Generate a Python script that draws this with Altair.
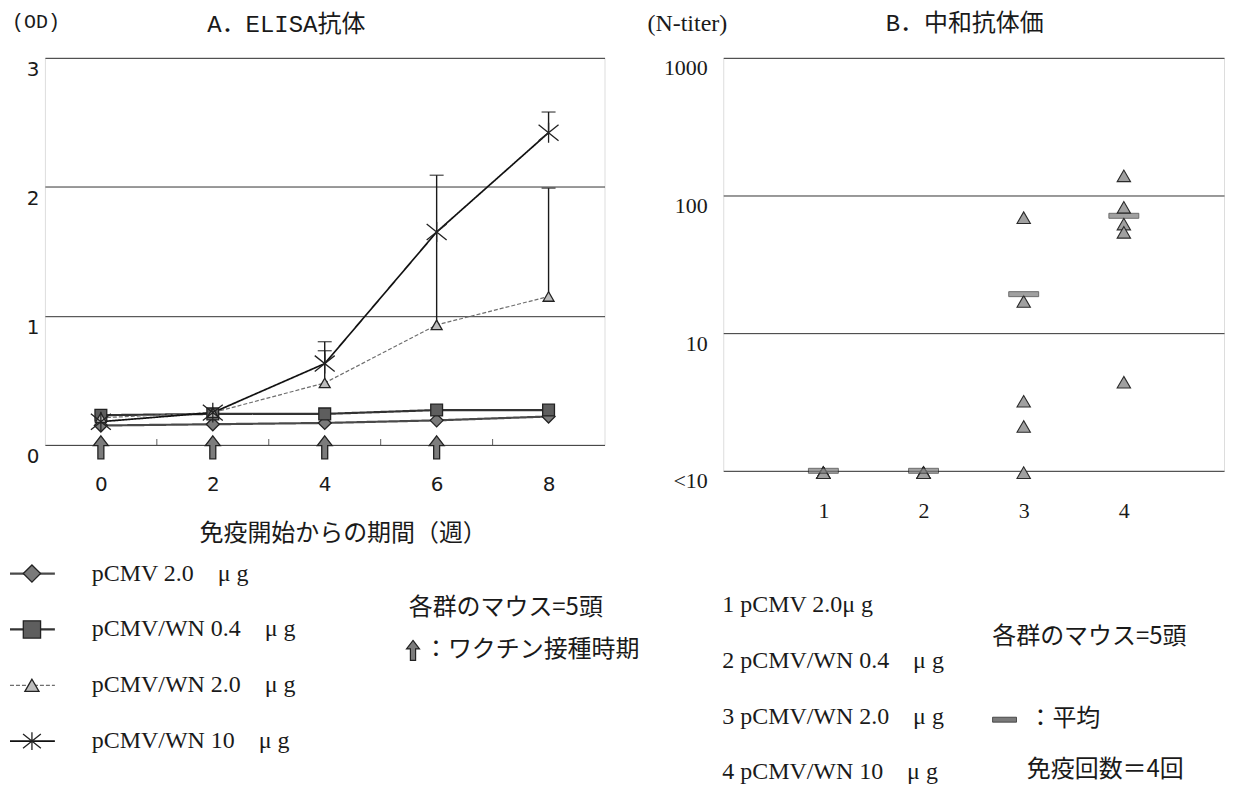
import altair as alt
import pandas as pd

# ---------------- Panel A : ELISA antibody (OD) ----------------
weeks = [0, 2, 4, 6, 8]
series = ["pCMV 2.0", "pCMV/WN 0.4", "pCMV/WN 2.0", "pCMV/WN 10"]
od_pcmv20 = [0.15, 0.16, 0.17, 0.19, 0.22]
od_wn04 = [0.23, 0.24, 0.24, 0.27, 0.27]
od_wn20 = [0.21, 0.25, 0.48, 0.93, 1.15]
od_wn10 = [0.18, 0.25, 0.63, 1.65, 2.42]
err_series = ["pCMV/WN 2.0", "pCMV/WN 2.0", "pCMV/WN 2.0", "pCMV/WN 10", "pCMV/WN 10"]
err_weeks = [4, 6, 8, 4, 8]
err_mean = [0.48, 0.93, 1.15, 0.63, 2.42]
err_upper = [0.73, 2.09, 1.99, 0.80, 2.58]
vaccination_weeks = [0, 2, 4, 6]
vaccination_od = [0, 0, 0, 0]
minor_weeks = [1, 3, 5, 7]
legendA_labels = ["pCMV 2.0\u2002\u2002μ g", "pCMV/WN 0.4\u2002\u2002μ g",
                  "pCMV/WN 2.0\u2002\u2002μ g", "pCMV/WN 10\u2002\u2002μ g"]

# ---------------- Panel B : neutralising titer ----------------
group_ids = [1, 1, 1, 1, 1, 2, 2, 2, 2, 2, 3, 3, 3, 3, 3, 4, 4, 4, 4, 4]
titers = [0.97, 0.97, 0.97, 0.97, 0.97,
          0.97, 0.97, 0.97, 0.97, 0.97,
          69, 17, 3.2, 2.1, 0.97,
          139, 82, 62, 54, 4.4]
mean_groups = [1, 2, 3, 4]
mean_titers = [1.0, 1.0, 19.2, 71.2]
groups = ["1", "2", "3", "4"]
legendB_labels = ["1 pCMV 2.0μ g", "2 pCMV/WN 0.4\u2002\u2002μ g",
                  "3 pCMV/WN 2.0\u2002\u2002μ g", "4 pCMV/WN 10\u2002\u2002μ g"]

ARROW = "M0,-1L0.65,-0.15L0.26,-0.15L0.26,1L-0.26,1L-0.26,-0.15L-0.65,-0.15Z"
ASTER = "M-1,-0.8L1,0.8M-1,0.8L1,-0.8M0,-1L0,1"

JP = "Noto Sans CJK JP"
SERIF = "Liberation Serif"
MONO = "Liberation Mono, Noto Sans CJK JP"
INK = "#1a1a1a"

# ---------- data frames ----------
od_all = [od_pcmv20, od_wn04, od_wn20, od_wn10]
dfA = pd.DataFrame([
    {"week": w, "series": s, "od": v}
    for s, vals in zip(series, od_all) for w, v in zip(weeks, vals)
])
dfErr = pd.DataFrame({"week": err_weeks, "series": err_series, "od": err_mean, "upper": err_upper})
dfArrow = pd.DataFrame({"week": vaccination_weeks, "od": vaccination_od})
dfMinor = pd.DataFrame({"week": minor_weeks})
dfLegA = pd.DataFrame({"series": series, "label": legendA_labels})

dfB = pd.DataFrame({"group": group_ids, "titer": titers})
dfMean = pd.DataFrame({"group": mean_groups, "titer": mean_titers})
dfLegB = pd.DataFrame({"g": groups, "label": legendB_labels})

W_A, H_A = 561, 388
W_B, H_B = 502, 414

# ---------- shared encodings panel A ----------
axXA = alt.Axis(values=weeks, title=None, grid=False, ticks=False, domain=False,
                labelFont="DejaVu Sans", labelFontSize=20, labelPadding=30, labelColor=INK)
axYA = alt.Axis(values=[0, 1, 2, 3], title=None, grid=True, gridColor="#333", gridWidth=1,
                ticks=False, domain=False, labelFont="DejaVu Sans", labelFontSize=20,
                labelPadding=6, labelOffset=12, labelColor=INK)
scXA = alt.Scale(domain=[-1, 9], nice=False, zero=False)
scYA = alt.Scale(domain=[0, 3], nice=False)

def xA(field="week"):
    return alt.X(f"{field}:Q", scale=scXA, axis=axXA)

def yA(field="od"):
    return alt.Y(f"{field}:Q", scale=scYA, axis=axYA)

line_stroke = alt.Stroke("series:N", scale=alt.Scale(domain=series, range=["#4a4a4a", "#333333", "#6e6e6e", "#111111"]), legend=None)
line_dash = alt.StrokeDash("series:N", scale=alt.Scale(domain=series, range=[[1, 0], [1, 0], [4, 2], [1, 0]]), legend=None)
line_width = alt.StrokeWidth("series:N", scale=alt.Scale(type="ordinal", domain=series, range=[2.2, 2.2, 1.2, 1.7]), legend=None)
pt_shape = alt.Shape("series:N", scale=alt.Scale(domain=series, range=["diamond", "square", "triangle-up", ASTER]), legend=None)
pt_fill = alt.Fill("series:N", scale=alt.Scale(domain=series, range=["#7a7a7a", "#5e5e5e", "#bdbdbd", "#111111"]), legend=None)

lines = alt.Chart(dfA).mark_line().encode(
    x=xA(), y=yA(), stroke=line_stroke, strokeDash=line_dash, strokeWidth=line_width, detail="series:N")
points = alt.Chart(dfA).mark_point(filled=True, stroke="#222", strokeWidth=1.3, opacity=1).encode(
    x=xA(), y=yA(), shape=pt_shape, fill=pt_fill,
    size=alt.Size("series:N", scale=alt.Scale(type="ordinal", domain=series, range=[170, 140, 120, 400]), legend=None))
err_rules = alt.Chart(dfErr).mark_rule(color=INK, strokeWidth=1.4).encode(
    x=xA(), y=yA(), y2="upper:Q")
err_caps = alt.Chart(dfErr).mark_tick(orient="horizontal", size=14, thickness=1.4, color=INK).encode(
    x=xA(), y=yA("upper"))
arrows = alt.Chart(dfArrow).mark_point(shape=ARROW, size=529, filled=True, fill="#7c7c7c",
                                       stroke="#222", strokeWidth=1.3, opacity=1, yOffset=2.5).encode(
    x=xA(), y=yA())
minor = alt.Chart(dfMinor).mark_tick(orient="vertical", size=6, thickness=1, color=INK).encode(
    x=xA(), y=alt.value(H_A - 3))

mainA = alt.layer(lines, err_rules, err_caps, points, minor, arrows)

# legend A (rows placed by a point scale)
yLegA = alt.Y("series:N", scale=alt.Scale(type="point", domain=series, range=[517, 685], padding=0), axis=None)
legA_rule = alt.Chart(dfLegA).mark_rule().encode(
    x=alt.value(-35), x2=alt.value(10), y=yLegA, stroke=line_stroke, strokeDash=line_dash, strokeWidth=line_width)
legA_pts = alt.Chart(dfLegA).mark_point(filled=True, stroke="#222", strokeWidth=1.3, opacity=1).encode(
    x=alt.value(-13), y=yLegA, shape=pt_shape, fill=pt_fill,
    size=alt.Size("series:N", scale=alt.Scale(type="ordinal", domain=series, range=[300, 300, 200, 320]), legend=None))
legA_txt = alt.Chart(dfLegA).mark_text(align="left", baseline="middle", font=SERIF, fontSize=24, color=INK).encode(
    x=alt.value(47), y=yLegA, text="label:N")
legendA = alt.layer(legA_rule, legA_pts, legA_txt)


def note(text, x, y, font, size, align="center"):
    return alt.Chart(pd.DataFrame({"t": [text]})).mark_text(
        align=align, baseline="middle", font=font, fontSize=size, color=INK
    ).encode(x=alt.value(x), y=alt.value(y), text="t:N")


notesA = alt.layer(
    note("(OD)", -33, -36, MONO, 20, "left"),
    note("A．ELISA抗体", 242, -33, MONO, 24),
    note("免疫開始からの期間（週）", 299, 477, JP, 24),
    note("各群のマウス=5頭", 462, 552, JP, 24),
    note("：ワクチン接種時期", 380, 594, JP, 24, "left"),
    alt.Chart(pd.DataFrame({"t": [""]})).mark_point(
        shape=ARROW, size=400, filled=True, fill="#7c7c7c", stroke="#222", strokeWidth=1.2, opacity=1
    ).encode(x=alt.value(369), y=alt.value(594)),
)

panelA = alt.layer(mainA, legendA, notesA).resolve_scale(
    x="independent", y="independent", size="independent").properties(width=W_A, height=H_A)

# ---------- panel B ----------
axXB = alt.Axis(values=[1, 2, 3, 4], title=None, grid=False, ticks=False, domain=False, format="d",
                labelFont=SERIF, labelFontSize=22, labelPadding=30, labelColor=INK)
axYB = alt.Axis(values=[1, 10, 100, 1000], title=None, grid=True, gridColor="#333", gridWidth=1,
                ticks=False, domain=False, format="d", labelFont=SERIF, labelFontSize=22,
                labelPadding=16, labelOffset=10, labelColor=INK,
                labelExpr="datum.value <= 1 ? '<10' : datum.label")
scXB = alt.Scale(domain=[0, 5], nice=False, zero=False)
scYB = alt.Scale(type="log", domain=[1, 1000], nice=False)

tri = alt.Chart(dfB).mark_point(shape="triangle-up", size=180, filled=True, fill="#a0a0a0",
                                stroke="#2a2a2a", strokeWidth=1.1, opacity=1).encode(
    x=alt.X("group:Q", scale=scXB, axis=axXB), y=alt.Y("titer:Q", scale=scYB, axis=axYB))
means = alt.Chart(dfMean).mark_tick(orient="horizontal", size=30, thickness=5, color="#7a7a7a",
                                    stroke="#222", strokeWidth=0.9).encode(
    x=alt.X("group:Q", scale=scXB, axis=axXB), y=alt.Y("titer:Q", scale=scYB, axis=axYB))
mainB = alt.layer(tri, means)

yLegB = alt.Y("g:N", scale=alt.Scale(type="point", domain=groups, range=[549, 716], padding=0), axis=None)
legendB = alt.Chart(dfLegB).mark_text(align="left", baseline="middle", font=SERIF, fontSize=24, color=INK).encode(
    x=alt.value(-1), y=yLegB, text="label:N")

notesB = alt.layer(
    note("(N-titer)", -36, -34, SERIF, 24),
    note("B．中和抗体価", 242, -34, MONO, 24),
    note("各群のマウス=5頭", 367, 581, JP, 24),
    alt.Chart(pd.DataFrame({"t": [""]})).mark_rect(fill="#7a7a7a", stroke="#333", strokeWidth=0.8).encode(
        x=alt.value(270), x2=alt.value(294), y=alt.value(661), y2=alt.value(666)),
    note("：平均", 306, 663, JP, 24, "left"),
    note("免疫回数＝4回", 383, 714, JP, 24),
)

panelB = alt.layer(mainB, legendB, notesB).resolve_scale(
    x="independent", y="independent").properties(width=W_B, height=H_B)

chart = alt.hconcat(panelA, panelB, spacing=119, bounds="flush").properties(
    padding={"left": 0, "top": 2, "right": 0, "bottom": 0}
).configure_view(stroke="#222", strokeWidth=1.5).configure(background="white")

chart.save("out.html", embed_options={"renderer": "svg", "actions": False})
